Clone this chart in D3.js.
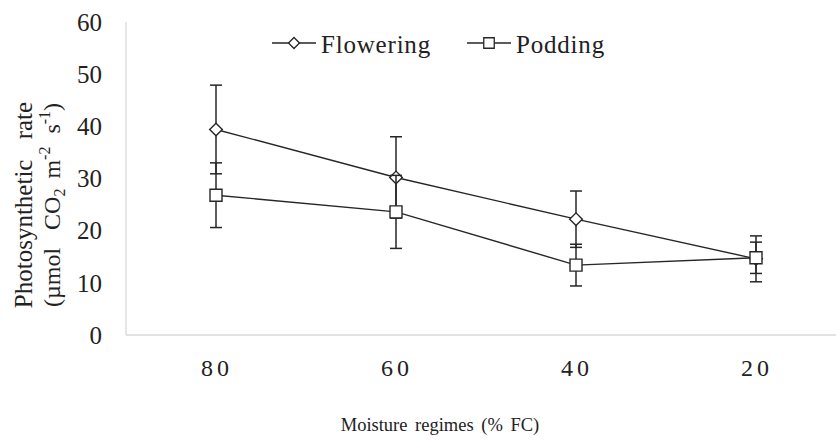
<!DOCTYPE html>
<html>
<head>
<meta charset="utf-8">
<script src="https://cdn.jsdelivr.net/npm/d3@7"></script>
<style>
  body { margin: 0; background: #fff; }
  svg text { font-family: "Times New Roman", "Liberation Serif", "DejaVu Serif", serif; fill: #222; }
</style>
</head>
<body>
<svg id="chart" width="836" height="448"></svg>
<script>
// moisture regimes (% FC)
var regimes = ["80", "60", "40", "20"];
var flowering = [39.4, 30.2, 22.2, 14.6];
var floweringErr = [8.5, 7.8, 5.4, 4.4];
var podding = [26.8, 23.6, 13.4, 14.8];
var poddingErr = [6.2, 7.0, 4.0, 3.0];
var yTicks = [0, 10, 20, 30, 40, 50, 60];

var svg = d3.select("#chart");

var x = d3.scaleBand().domain(regimes).range([126, 846]);
var y = d3.scaleLinear().domain([0, 60]).range([335, 22]);

// axis lines
svg.append("line").attr("x1", 126).attr("x2", 126).attr("y1", y(60)).attr("y2", y(0))
  .attr("stroke", "#d9d9d9").attr("stroke-width", 1.3);
svg.append("line").attr("x1", 126).attr("x2", 836).attr("y1", y(0)).attr("y2", y(0))
  .attr("stroke", "#d9d9d9").attr("stroke-width", 1.3);

// y tick labels
svg.selectAll(".ytick").data(yTicks).enter().append("text")
  .attr("x", 102).attr("y", function(d) { return y(d); })
  .attr("dy", "0.35em").attr("text-anchor", "end")
  .style("font-size", "25px").text(function(d) { return d; });

// x tick labels
svg.selectAll(".xtick").data(regimes).enter().append("text")
  .attr("x", function(d) { return x(d) + x.bandwidth() / 2 + 1; })
  .attr("y", 368).attr("dy", "0.35em").attr("text-anchor", "middle")
  .style("font-size", "24px").style("letter-spacing", "4px")
  .text(function(d) { return d; });

// axis titles
svg.append("text").attr("x", 440).attr("y", 425).attr("dy", "0.35em")
  .attr("text-anchor", "middle").style("font-size", "18.5px").style("word-spacing", "3px")
  .text("Moisture regimes (% FC)");

var yt = svg.append("g").attr("transform", "translate(32,205) rotate(-90)");
yt.append("text").attr("text-anchor", "middle")
  .style("font-size", "25px").style("word-spacing", "14px").text("Photosynthetic rate");
var yt2 = yt.append("text").attr("text-anchor", "middle").attr("y", 28)
  .style("font-size", "24px");
yt2.append("tspan").text("(µmol");
yt2.append("tspan").attr("dx", 18).text("CO");
yt2.append("tspan").attr("dy", 5).style("font-size", "16px").text("2");
yt2.append("tspan").attr("dy", -5).attr("dx", 10).text("m");
yt2.append("tspan").attr("dy", -10).style("font-size", "16px").text("-2");
yt2.append("tspan").attr("dy", 10).attr("dx", 13).text("s");
yt2.append("tspan").attr("dy", -10).style("font-size", "16px").text("-1");
yt2.append("tspan").attr("dy", 10).text(")");

var cx = function(d, i) { return x(regimes[i]) + x.bandwidth() / 2; };
var ink = "#262626";

function drawSeries(vals, errs, shape) {
  var g = svg.append("g");
  // error bars
  vals.forEach(function(v, i) {
    var xx = cx(null, i);
    g.append("line").attr("x1", xx).attr("x2", xx)
      .attr("y1", y(v + errs[i])).attr("y2", y(v - errs[i]))
      .attr("stroke", ink).attr("stroke-width", 1.5);
    [v + errs[i], v - errs[i]].forEach(function(e) {
      g.append("line").attr("x1", xx - 6).attr("x2", xx + 6)
        .attr("y1", y(e)).attr("y2", y(e))
        .attr("stroke", ink).attr("stroke-width", 1.5);
    });
  });
  var line = d3.line().x(function(d, i) { return cx(d, i); }).y(function(d) { return y(d); });
  g.append("path").datum(vals).attr("d", line)
    .attr("fill", "none").attr("stroke", ink).attr("stroke-width", 1.4);
  var sym = d3.symbol().type(d3.symbolSquare).size(shape === "diamond" ? 80 : 144);
  g.selectAll("path.m").data(vals).enter().append("path").attr("class", "m")
    .attr("d", sym)
    .attr("transform", function(d, i) {
      return "translate(" + cx(d, i) + "," + y(d) + ")" + (shape === "diamond" ? " rotate(45)" : "");
    })
    .attr("fill", "#fff").attr("stroke", ink).attr("stroke-width", 1.4);
}

drawSeries(flowering, floweringErr, "diamond");
drawSeries(podding, poddingErr, "square");

// legend
var leg = svg.append("g");
var items = [
  { name: "Flowering", x0: 272, shape: "diamond" },
  { name: "Podding", x0: 467, shape: "square" }
];
items.forEach(function(it) {
  leg.append("line").attr("x1", it.x0).attr("x2", it.x0 + 44).attr("y1", 43).attr("y2", 43)
    .attr("stroke", ink).attr("stroke-width", 1.3);
  leg.append("path")
    .attr("d", d3.symbol().type(d3.symbolSquare).size(it.shape === "diamond" ? 60 : 110)())
    .attr("transform", "translate(" + (it.x0 + 22) + ",43)" + (it.shape === "diamond" ? " rotate(45)" : ""))
    .attr("fill", "#fff").attr("stroke", ink).attr("stroke-width", 1.3);
  leg.append("text").attr("x", it.x0 + 49).attr("y", 44).attr("dy", "0.35em")
    .style("font-size", "25px").style("letter-spacing", "0.8px").text(it.name);
});
</script>
</body>
</html>
